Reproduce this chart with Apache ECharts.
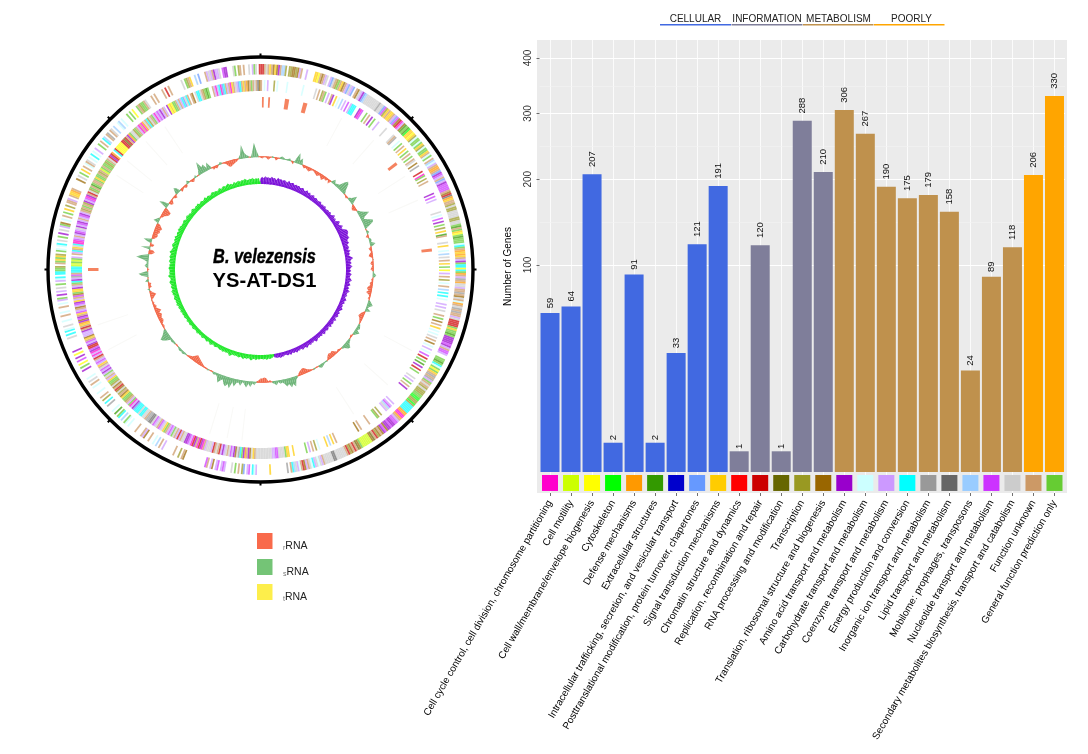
<!DOCTYPE html>
<html>
<head>
<meta charset="utf-8">
<style>html,body{margin:0;padding:0;background:#fff}#c{width:1088px;height:754px}</style>
<script src="https://cdn.jsdelivr.net/npm/echarts@6/dist/echarts.min.js"></script>
</head>
<body>
<div id="c"></div>
<script>
// ---------- bar chart data ----------
var categories = ["Cell cycle control, cell division, chromosome partitioning","Cell motility","Cell wall/membrane/envelope biogenesis","Cytoskeleton","Defense mechanisms","Extracellular structures","Intracellular trafficking, secretion, and vesicular transport","Posttranslational modification, protein turnover, chaperones","Signal transduction mechanisms","Chromatin structure and dynamics","Replication, recombination and repair","RNA processing and modification","Transcription","Translation, ribosomal structure and biogenesis","Amino acid transport and metabolism","Carbohydrate transport and metabolism","Coenzyme transport and metabolism","Energy production and conversion","Inorganic ion transport and metabolism","Lipid transport and metabolism","Mobilome: prophages, transposons","Nucleotide transport and metabolism","Secondary metabolites biosynthesis, transport and catabolism","Function unknown","General function prediction only"];
var geneCounts = [59,64,207,2,91,2,33,121,191,1,120,1,288,210,306,267,190,175,179,158,24,89,118,206,330];
var groupOf = [0,0,0,0,0,0,0,0,0,1,1,1,1,1,2,2,2,2,2,2,2,2,2,3,3];
var groupNames = ["CELLULAR","INFORMATION","METABOLISM","POORLY"];
var groupColors = ["#4169e1","#7f7e9a","#bf914d","#ffa500"];
var chipColors = ["#ff00cc","#ccff00","#ffff00","#00ff00","#ff9900","#339900","#0000cc","#6699ff","#ffcc00","#ff0000","#cc0000","#666600","#999922","#996600","#9900cc","#ccffff","#cc99ff","#00ffff","#999999","#666666","#99ccff","#cc33ff","#cccccc","#cc9966","#66cc33"];
var yTicks = [100,200,300,400];
var yMinorTicks = [146,247,348];

// ---------- circular map data: each row is 10 degrees, each letter a half-degree bin ('.' = no gene) ----------
var cogLetters = {a:"#ff00cc",b:"#ccff00",c:"#ffff00",d:"#00ff00",e:"#ff9900",f:"#339900",g:"#0000cc",h:"#6699ff",i:"#ffcc00",j:"#ff0000",k:"#cc0000",l:"#666600",m:"#999922",n:"#996600",o:"#9900cc",p:"#ccffff",q:"#cc99ff",r:"#00ffff",s:"#999999",t:"#666666",u:"#99ccff",v:"#cc33ff",w:"#cccccc",x:"#cc9966",y:"#66cc33"};
var forwardRing = [
"kkxwxixninoxuum.mmnn","mnqx..q....iicxnxqw.","qhwxmyxinxqhwqh.xnwq","ohuwwwwwwwwswwhvmixi","ixqhvnkaqnfyfdiicimp","yypyimpyyixpy.xupqxe","exhovqxhqovvvvxnktei","xxmwmmwwwwmmwwyfxyic","yfyyypryxeieixqoyrrc",
"ryexqsxewwqxxsxnwxpe","xwsxsxxqwkkkkyiyyfyo","ooovoqxvvq..yyfyrpyc","yixsxsqyxwxmwmmmyydd","mmdmrrrrreeaaexqvvoo","voonvonxnmkxlnbbbbbb","ynlxkxnmkxwwwwwwttww","wwwxqwpwqrpwxqnkxpqw","urx.s.........i.....",
"..qpr.vq.hm.x.y.w...","qvq.vq.nq.xv........","....nx.m..x......q.x",".u.p..x..nqx...x....","p.py.u.ry.f.p...s.r.","m.x..p...p.x.w.p....","o.y.c.v.o.c.o.......","w.r.rp.w..p..x.p..x.","p.qy.o.q.w.y.qpr.rry",
"ym.xyiyim.yp.pr.w.y.","o.w.qyn.p.x.y.i.m.xx","q.xiiex.....n.w.y.i.","x.pxw.p.r.p.q..y.x.r","u.xs.xw.u..pu.p...y.","y.c..yxmyyxw...x.x..","..x.k.x.......w.ymxi","..u.h...xqwqxoqqw.vo","o...wy.mx.x..w.qyw.k"];
var reverseRing = [
"x.p.q...m.p.....p...","......p.......w.x.mx","y.q.xo.i.p.u.q.v.qrr","r..oav..y.x.o.y..q..","...w.....wxs..p.y.x.","i.y.x.y.xw.n.s...k.a","y.m.x.......o.v.q...","....w.p.v.o.y.m.i.fx","...w.i..p.u.w.x.i.y.",
"c.q.x.m.p.x.u.r.r.p.",".q.q.w..x.y.n.x.i.p.","p.w.x.n.p.q.p.v.k.y.","f.o.k.y...w.q.y.x.o.","..........q.qvuwq...","m.my.....x.....x.n..","............x.i.u.i.","...p.m.x.q.y.......i","..iiywwwwvvqqwwwwwww",
"wwwxiwnoxeoyrswnoqvw","xwqoqkxwxkqwwwqxaoka","xokaqvoowwxqkqxwyqvq","xyiwqvxwqvwttssxwwrr","wrrrhoqayqxmyyinxmwn","kxnwmyyiqxwyqoqvwxiq","vqxkqaqaovkkoqvxinqq","qoxkxieonvoxivqxnqvo","iqxvnyiioqxyroqsvxrr",
"rrbbybyq.xqrxiwraavq","xqovqwoqvoqxqvoqxmxy","xmoqvaoxkwmyxfyxxyiy","yxmxbyxyymyxwkoke.rk","ccccckklkxoeywwmyxqa","xaewxrmwxyqaqvqoqxq.","ocicyyxuxqrhwrx.xn.w","rrwxmyfy..xqaurahrxq","xaixwqhrxixenxyxwxtn"];
var rrnaSpans = [[0.5,1.1],[2.6,3.2],[8.2,9.6],[14.4,15.8],[51.6,52.6],[83,84],[269.5,270.5]];
var faintAngles = [28,41,57,66,118,132,147,186,191,197,242,251,303,309,318,326];
// GC content deviation, one value per degree clockwise from the top
var gcDev = [-1,-2,0,-1,-3,-1,1,0,-3,-1,1,2,1,0,1,2,-1,-3,4,10,3,6,-1,-3,-2,-3,-4,-2,-1,-2,
-3,-4,-2,-3,-5,-2,-3,-1,-4,1,4,1,2,3,8,11,9,4,1,-1,-2,1,3,8,3,-1,-3,-4,-2,1,
3,6,10,4,2,6,10,9,4,-1,1,2,-1,-3,1,2,1,5,2,-3,-2,-1,-3,-4,-1,1,-2,-3,-1,-2,
-3,0,1,3,1,-2,-1,-3,-2,-4,-5,-3,-5,-2,-1,-2,1,3,5,2,1,5,-1,-3,-4,-5,-3,-2,-1,1,
2,3,1,5,3,1,-2,-1,1,2,3,6,5,2,1,-1,-2,-1,-3,-5,-4,-5,-4,-2,1,0,1,2,3,1,
-1,0,1,-1,-2,-3,-5,-6,-5,-4,-2,1,3,9,6,9,5,7,4,2,3,1,4,2,1,-2,-1,-4,-5,-4,
-4,-2,-1,3,1,5,2,6,3,1,5,2,3,7,3,10,6,9,7,3,5,8,3,1,2,1,-1,0,1,-1,
-1,-2,-3,-4,-5,-6,-7,-5,-3,-2,-1,0,1,2,1,2,1,0,-1,1,1,2,1,5,8,9,5,3,1,-1,
-2,-1,-3,-4,-3,-4,-5,-3,-6,-4,-2,-3,-1,-2,1,-2,-4,-6,-3,-1,2,-3,-2,-3,3,1,-1,6,9,2,
-2,1,3,1,1,5,12,7,-3,-6,-4,9,-3,-4,3,8,-2,-4,-5,-4,-6,-5,-7,-5,-3,5,3,1,-2,-3,
-6,-7,-7,-2,9,5,-3,-4,-2,1,-2,-3,2,6,4,-3,-2,-1,-3,-2,3,1,-2,-3,-1,2,-1,1,5,12,
5,7,2,7,2,-3,-2,-3,-1,2,1,-1,-2,-5,-6,-5,-4,-3,-2,1,4,13,5,2,1,-1,5,14,6,1];
// GC skew, one value per degree clockwise from the top
var gcSkew = [5,8,6,9,7,8,6,9,7,8,5,9,7,8,6,8,7,5,9,6,7,8,5,7,6,7,5,6,7,4,
5,7,4,6,3,5,6,3,5,4,3,4,5,2,4,3,5,2,3,4,3,5,2,4,7,3,5,2,6,8,
4,6,9,5,7,11,12,12,10,9,11,7,6,8,4,5,6,3,7,4,5,3,6,9,5,4,6,3,7,4,
3,5,2,6,4,3,5,7,3,4,6,2,5,3,7,4,3,5,2,4,6,3,5,2,4,3,6,4,2,5,
3,5,4,2,6,3,4,5,3,6,2,4,5,3,4,6,2,5,3,4,3,5,6,2,4,3,5,3,4,6,
3,4,5,2,4,3,5,3,4,2,5,3,4,3,2,4,3,5,3,4,3,2,-2,-3,-4,-3,-5,-3,-4,-3,
-3,-4,-3,-5,-3,-4,-6,-4,-3,-5,-3,-6,-4,-3,-5,-4,-3,-4,-3,-5,-7,-4,-3,-4,-3,-5,-3,-4,-3,-2,
-3,-4,-2,-3,-5,-3,-2,-4,-3,-2,-3,-4,-2,-3,-2,-4,-3,-2,-3,-4,-3,-2,-4,-3,-3,-4,-2,-3,-4,-3,
-4,-3,-5,-3,-4,-5,-3,-6,-4,-5,-4,-6,-5,-4,-6,-5,-7,-4,-5,-6,-4,-6,-7,-5,-4,-6,-8,-5,-6,-5,
-6,-7,-5,-6,-4,-7,-6,-5,-7,-6,-5,-8,-6,-5,-4,-6,-7,-5,-4,-6,-5,-7,-4,-5,-6,-4,-7,-5,-6,-4,
-5,-4,-6,-5,-3,-5,-6,-4,-5,-3,-4,-6,-5,-3,-5,-4,-6,-3,-4,-5,-3,-4,-6,-3,-5,-4,-3,-5,-6,-4,
-5,-3,-4,-6,-3,-5,-6,-4,-5,-7,-4,-5,-3,-6,-4,-5,-6,-4,-6,-5,-7,-5,-4,-6,-5,-7,-4,-6,-5,-6];
var legendItems = [["r","RNA","#f96a4b"],["s","RNA","#74c476"],["t","RNA","#fdee4b"]];

// ---------- helpers ----------
var sq = function (v) { return Math.sqrt(v); };
var FONT = '"Liberation Sans", Arial, sans-serif';
function ringData(rows) {
  var out = [];
  rows.forEach(function (row, r) {
    for (var j = 0; j < row.length; j++) {
      if (row[j] !== '.') out.push([10 * r + j * 0.5, 10 * r + (j + 1) * 0.5, cogLetters[row[j]]]);
    }
  });
  return out;
}
function bandSeries(data, r0, r1, opacity) {
  return {
    type: 'custom', coordinateSystem: 'polar', silent: true, animation: false, data: data,
    dimensions: ['a0', 'a1', 'col'], encode: { angle: 0 },
    renderItem: function (p, api) {
      var a0 = api.value(0), a1 = api.value(1);
      if (a1 < a0) a1 += 360;
      return { type: 'polygon', shape: { points: [api.coord([r0, a0]), api.coord([r1, a0]), api.coord([r1, a1]), api.coord([r0, a1])] },
        style: { fill: data[p.dataIndex][2], opacity: opacity } };
    }
  };
}
function waveSeries(values, step, base, posCol, negCol, outward, baseWidth) {
  var data = values.map(function (v, i) { return [i * step, v]; });
  return {
    type: 'custom', coordinateSystem: 'polar', silent: true, animation: false, data: data,
    dimensions: ['a', 'v'], encode: { angle: 0 },
    renderItem: function (p, api) {
      var i = p.dataIndex, a0 = i * step, a1 = a0 + step, v0 = values[i], v1 = values[(i + 1) % values.length];
      function tri(aa, va, ab, vb, col) {
        return { type: 'polygon', shape: { points: [api.coord([base, aa]), api.coord([base + outward(va), aa]), api.coord([base + outward(vb), ab]), api.coord([base, ab])] },
          style: { fill: col } };
      }
      var kids = [];
      if (v0 * v1 < 0) {
        var t = v0 / (v0 - v1), am = a0 + t * step;
        kids.push(tri(a0, v0, am, 0, v0 > 0 ? posCol : negCol));
        kids.push(tri(am, 0, a1, v1, v1 > 0 ? posCol : negCol));
      } else {
        kids.push(tri(a0, v0, a1, v1, (v0 + v1) > 0 ? posCol : negCol));
      }
      kids.push({ type: 'polygon', shape: { points: [api.coord([base - baseWidth, a0 - 0.1]), api.coord([base + 0.3, a0 - 0.1]), api.coord([base + 0.3, a1 + 0.1]), api.coord([base - baseWidth, a1 + 0.1])] },
        style: { fill: (v0 + v1) > 0 ? posCol : negCol } });
      return { type: 'group', children: kids };
    }
  };
}

// ---------- static text and legend ----------
var graphics = [
  { type: 'rect', z: -10, silent: true, shape: { x: 537, y: 40, width: 530, height: 453 }, style: { fill: '#ebebeb' } },
  { type: 'text', x: 264.5, y: 257, scaleX: 0.78, style: { text: 'B. velezensis', font: 'italic bold 21px ' + FONT, fill: '#000', stroke: '#000', lineWidth: 0.4, align: 'center', verticalAlign: 'middle' } },
  { type: 'text', x: 264.5, y: 281, scaleX: 0.96, style: { text: 'YS-AT-DS1', font: 'bold 21px ' + FONT, fill: '#000', align: 'center', verticalAlign: 'middle' } }
];
var groupSpans = [[660, 731], [731.5, 802.5], [803, 873.5], [874, 944.5]];
groupNames.forEach(function (n, i) {
  var s = groupSpans[i];
  graphics.push({ type: 'rect', silent: true, shape: { x: s[0], y: 24, width: s[1] - s[0], height: 1.6 }, style: { fill: groupColors[i] } });
  graphics.push({ type: 'text', x: [695.5, 767, 838.5, 911.5][i], y: 19, style: { text: n, font: '10px ' + FONT, fill: '#222', align: 'center', verticalAlign: 'middle' } });
});
legendItems.forEach(function (it, i) {
  var y = [533, 559, 584][i];
  graphics.push({ type: 'rect', silent: true, shape: { x: 257, y: y, width: 15.5, height: 16 }, style: { fill: it[2] } });
  graphics.push({ type: 'text', x: 283, y: y + 13.5, style: { text: '{a|' + it[0] + '}' + it[1], font: '10.5px ' + FONT, fill: '#222', align: 'left', verticalAlign: 'middle',
    rich: { a: { font: '7px ' + FONT, fill: '#777', verticalAlign: 'bottom', padding: [3, 0, 0, 0] } } } });
});

// ---------- chart ----------
var chart = echarts.init(document.getElementById('c'), null, { renderer: 'canvas' });
var barData = geneCounts.map(function (v, i) {
  return { value: sq(v), itemStyle: { color: groupColors[groupOf[i]] }, label: { distance: String(v).length * 2.4 } };
});
var option = {
  animation: false,
  backgroundColor: '#fff',
  graphic: { elements: graphics },
  polar: { center: [260.5, 269.5], radius: 212.5 },
  angleAxis: {
    type: 'value', min: 0, max: 360, startAngle: 90, interval: 45, clockwise: true,
    axisLine: { show: true, lineStyle: { color: '#000', width: 3.4 } },
    axisTick: { show: true, inside: false, length: 3.5, lineStyle: { color: '#000', width: 2 } },
    axisLabel: { show: false }, splitLine: { show: false }
  },
  radiusAxis: { type: 'value', min: 0, max: 212.5, axisLine: { show: false }, axisTick: { show: false }, axisLabel: { show: false }, splitLine: { show: false } },
  grid: { left: 539.5, width: 525.5, top: 40, height: 453, containLabel: false },
  xAxis: {
    type: 'category', data: categories, boundaryGap: true,
    axisLine: { show: false, onZero: false },
    axisTick: { show: true, alignWithLabel: true, length: 3, lineStyle: { color: '#333', width: 0.7 } },
    axisLabel: { interval: 0, rotate: 60, margin: 8, fontSize: 10, fontFamily: FONT, color: '#000' },
    splitLine: { show: true, alignWithLabel: true, interval: 0, lineStyle: { color: '#fff', width: 0.8 } }
  },
  yAxis: {
    type: 'value', min: -1.0145, max: 20.87, name: 'Number of Genes', nameLocation: 'middle', nameGap: 26,
    nameTextStyle: { fontSize: 10, fontFamily: FONT, color: '#000' },
    axisLine: { show: false },
    axisTick: { show: true, length: 3, customValues: yTicks.map(sq), lineStyle: { color: '#333', width: 0.7 } },
    axisLabel: { rotate: 90, margin: 6, fontSize: 10, fontFamily: FONT, color: '#333', customValues: yTicks.map(sq),
      formatter: function (v) { return String(Math.round(v * v)); } },
    splitLine: { show: true, lineStyle: { color: '#fff', width: 1 } }
  },
  series: [
    { type: 'line', data: [], xAxisIndex: 0, yAxisIndex: 0, silent: true, z: 1,
      markLine: { silent: true, z: 1, symbol: 'none', label: { show: false }, lineStyle: { color: '#f3f3f3', width: 0.6, type: 'solid' },
        data: yMinorTicks.map(function (v) { return { yAxis: sq(v) }; }) } },
    { type: 'bar', data: barData, barWidth: 19, z: 3, silent: true,
      label: { show: true, position: 'top', rotate: 90, align: 'left', verticalAlign: 'middle', fontSize: 9.5, fontFamily: FONT, color: '#111',
        formatter: function (p) { return String(geneCounts[p.dataIndex]); } } },
    { type: 'scatter', data: chipColors.map(function (c, i) { return { value: [i, -0.53], itemStyle: { color: c, opacity: 1 } }; }),
      symbol: 'rect', symbolSize: 16, z: 3, silent: true },
    bandSeries(ringData(forwardRing), 195, 205.5, 0.72),
    bandSeries(ringData(reverseRing), 178.5, 189.5, 0.72),
    bandSeries(rrnaSpans.map(function (s) { return [s[0], s[1], '#f4764f']; }), 162, 172.5, 0.9),
    bandSeries(faintAngles.map(function (a) { return [a, a + 0.4, '#f9f9f7']; }), 140, 172, 1),
    waveSeries(gcDev, 1, 113, '#6fb57a', '#f2694a', function (v) { return v; }, 0.7),
    waveSeries(gcSkew, 1, 87.5, '#7b12d8', '#22e82b', function (v) { return Math.abs(v) * 0.65; }, 2)
  ]
};
chart.setOption(option);
</script>
</body>
</html>
